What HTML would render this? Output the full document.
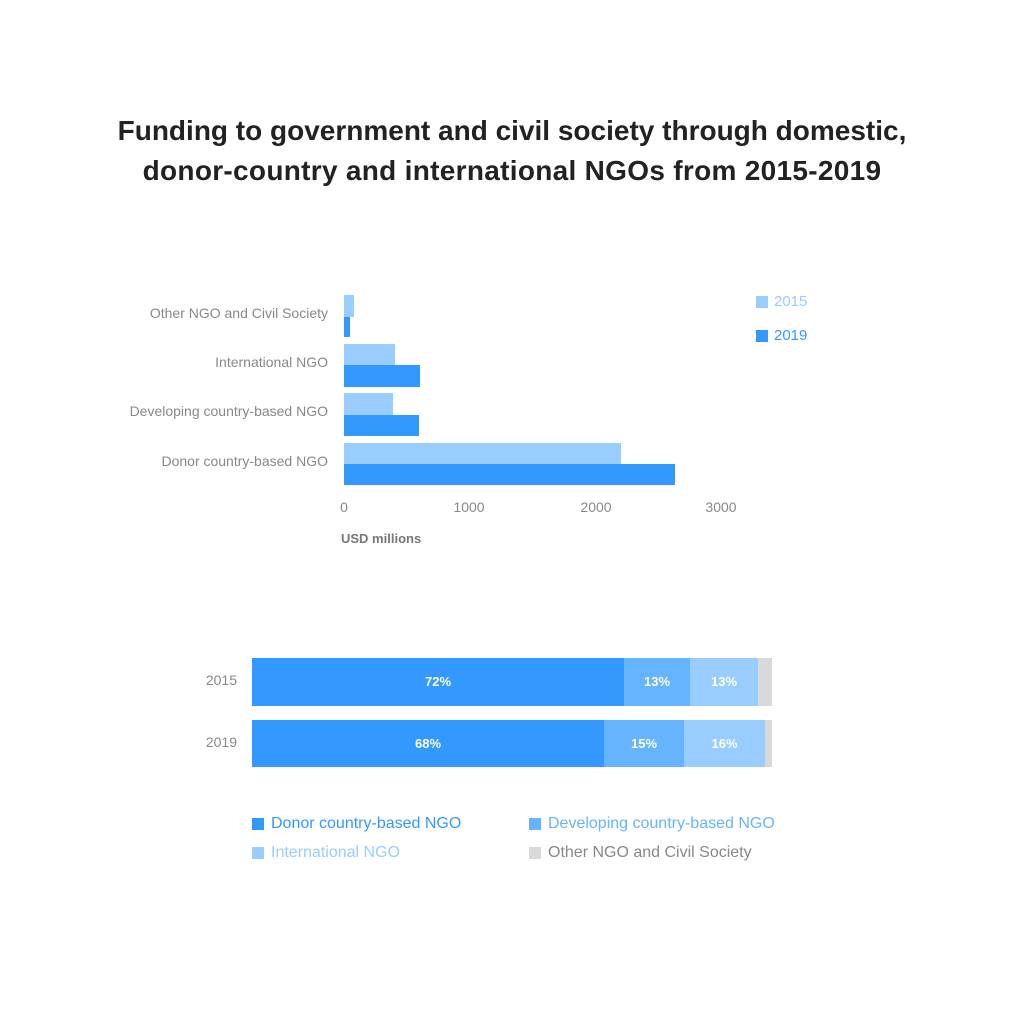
<!DOCTYPE html>
<html><head><style>
body{margin:0;background:#fff;}
.w{position:relative;width:1024px;height:1024px;font-family:"Liberation Sans",sans-serif;overflow:hidden}
.t{position:absolute;left:0;width:1024px;text-align:center;font-weight:bold;font-size:28px;color:#222;line-height:40px;top:111px}
.a{position:absolute}
.l{position:absolute;font-size:14px;color:#888;text-align:right;width:300px;left:28px}
.p{position:absolute;font-size:13px;color:#fff;font-weight:bold;text-align:center}
.lg{position:absolute;font-size:16px}
.sq{position:absolute;width:12px;height:12px}
</style></head><body><div class="w">
<div class="t">Funding to government and civil society through domestic,<br><span style="letter-spacing:0.3px">donor-country and international NGOs from 2015-2019</span></div>

<div class="l" style="top:305px">Other NGO and Civil Society</div>
<div class="l" style="top:354px">International NGO</div>
<div class="l" style="top:403px">Developing country-based NGO</div>
<div class="l" style="top:453px">Donor country-based NGO</div>

<div class="a" style="left:344px;top:295px;width:10px;height:22px;background:#99ccff"></div>
<div class="a" style="left:344px;top:317px;width:6px;height:20px;background:#3399ff"></div>
<div class="a" style="left:344px;top:344px;width:51px;height:21px;background:#99ccff"></div>
<div class="a" style="left:344px;top:365px;width:76px;height:22px;background:#3399ff"></div>
<div class="a" style="left:344px;top:393px;width:49px;height:22px;background:#99ccff"></div>
<div class="a" style="left:344px;top:415px;width:75px;height:21px;background:#3399ff"></div>
<div class="a" style="left:344px;top:443px;width:277px;height:21px;background:#99ccff"></div>
<div class="a" style="left:344px;top:464px;width:331px;height:21px;background:#3399ff"></div>

<div class="l" style="left:294px;width:100px;text-align:center;top:499px">0</div>
<div class="l" style="left:419px;width:100px;text-align:center;top:499px">1000</div>
<div class="l" style="left:546px;width:100px;text-align:center;top:499px">2000</div>
<div class="l" style="left:671px;width:100px;text-align:center;top:499px">3000</div>
<div class="a" style="left:341px;top:531px;font-size:13px;font-weight:bold;color:#777">USD millions</div>

<div class="sq" style="left:756px;top:296px;background:#99ccff"></div>
<div class="lg" style="left:774px;top:293px;color:#99ccff;font-size:15px">2015</div>
<div class="sq" style="left:756px;top:330px;background:#3399ff"></div>
<div class="lg" style="left:774px;top:327px;color:#3399ff;font-size:15px">2019</div>

<div class="l" style="left:0;width:237px;top:672px">2015</div>
<div class="l" style="left:0;width:237px;top:734px">2019</div>
<div class="a" style="left:252px;top:658px;width:372px;height:48px;background:#3399ff"></div>
<div class="a" style="left:624px;top:658px;width:66px;height:48px;background:#66b3ff"></div>
<div class="a" style="left:690px;top:658px;width:68px;height:48px;background:#99ccff"></div>
<div class="a" style="left:758px;top:658px;width:14px;height:48px;background:#d9d9d9"></div>
<div class="a" style="left:252px;top:720px;width:352px;height:47px;background:#3399ff"></div>
<div class="a" style="left:604px;top:720px;width:80px;height:47px;background:#66b3ff"></div>
<div class="a" style="left:684px;top:720px;width:81px;height:47px;background:#99ccff"></div>
<div class="a" style="left:765px;top:720px;width:7px;height:47px;background:#d9d9d9"></div>
<div class="p" style="left:252px;width:372px;top:674px">72%</div>
<div class="p" style="left:624px;width:66px;top:674px">13%</div>
<div class="p" style="left:690px;width:68px;top:674px">13%</div>
<div class="p" style="left:252px;width:352px;top:736px">68%</div>
<div class="p" style="left:604px;width:80px;top:736px">15%</div>
<div class="p" style="left:684px;width:81px;top:736px">16%</div>

<div class="sq" style="left:252px;top:818px;background:#3399ff"></div>
<div class="lg" style="left:271px;top:815px;color:#3399ff">Donor country-based NGO</div>
<div class="sq" style="left:529px;top:818px;background:#66b3ff"></div>
<div class="lg" style="left:548px;top:815px;color:#66b3ff">Developing country-based NGO</div>
<div class="sq" style="left:252px;top:847px;background:#99ccff"></div>
<div class="lg" style="left:271px;top:844px;color:#99ccff">International NGO</div>
<div class="sq" style="left:529px;top:847px;background:#d9d9d9"></div>
<div class="lg" style="left:548px;top:844px;color:#888">Other NGO and Civil Society</div>
</div></body></html>
